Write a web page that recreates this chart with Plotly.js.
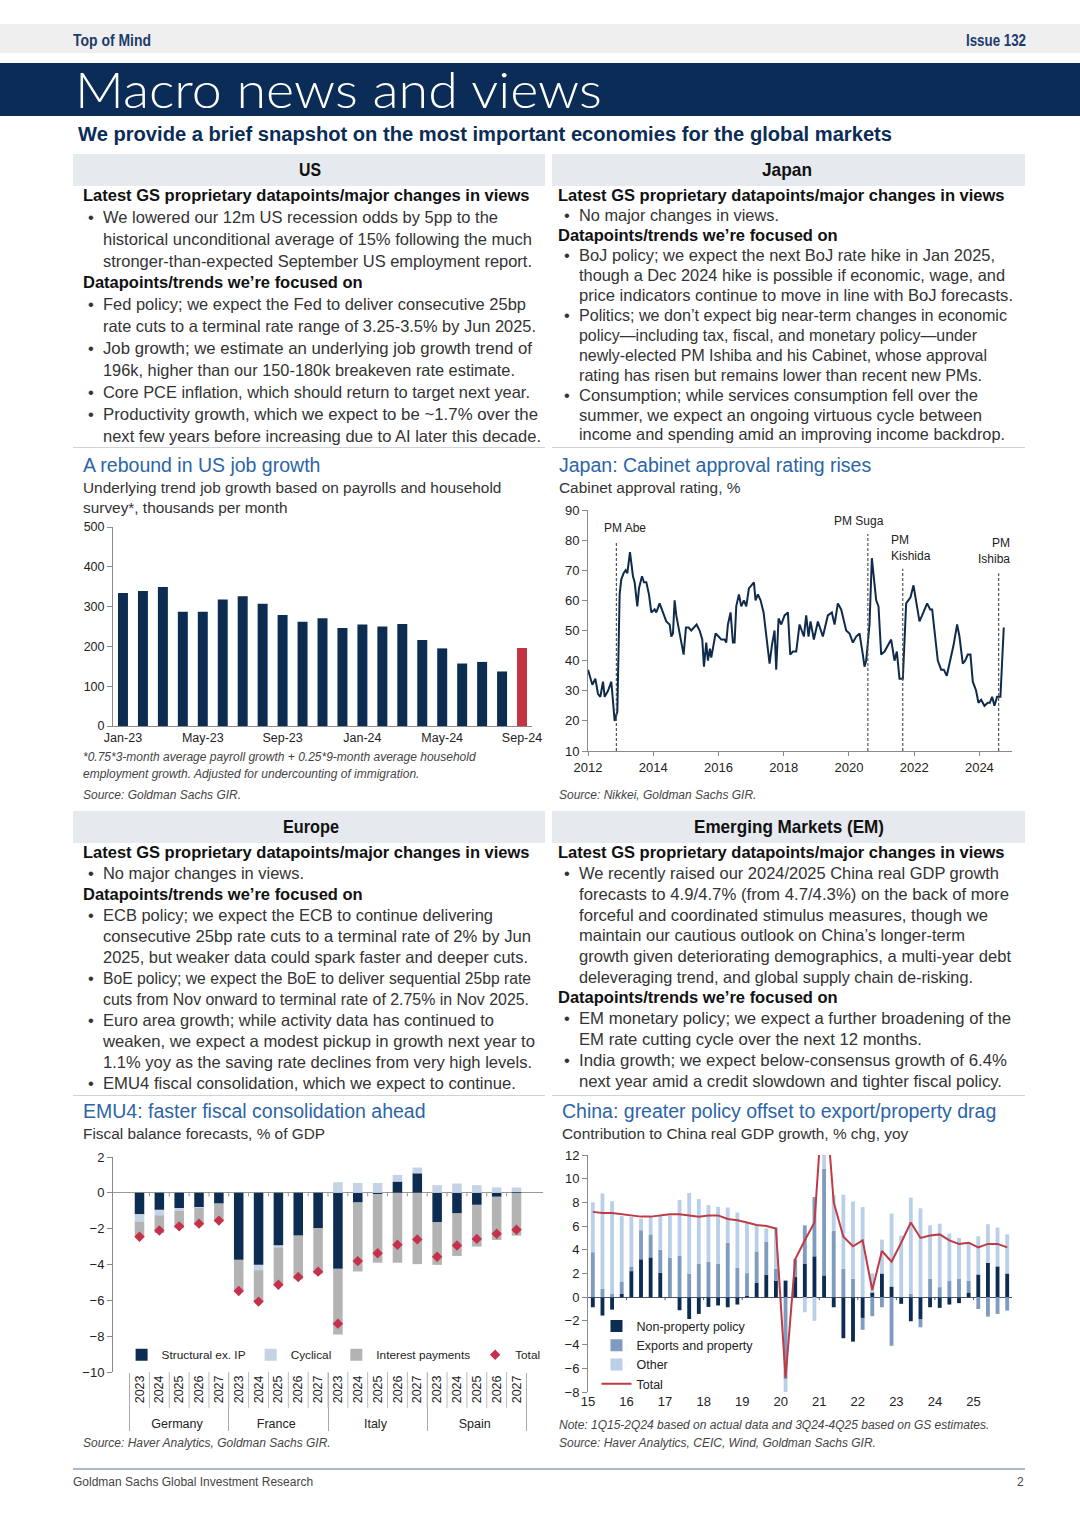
<!DOCTYPE html>
<html>
<head>
<meta charset="utf-8">
<title>Macro news and views</title>
<script src="https://cdn.plot.ly/plotly-3.0.1.min.js"></script>
<style>
html,body{margin:0;padding:0;background:#fff;}
#page{position:relative;width:1080px;height:1527px;overflow:hidden;background:#fff;font-family:"Liberation Sans",Arial,Helvetica,sans-serif;color:#222;}
.abs{position:absolute;white-space:nowrap;}
.band{position:absolute;}
.chart{position:absolute;}
.hd{font-weight:bold;font-size:16.5px;color:#111;line-height:20px;}
.tx{font-size:16.5px;color:#333;line-height:20px;}
.ct{font-size:19.5px;color:#2b65a8;line-height:24px;}
.cs{font-size:15.4px;color:#333;line-height:20px;}
.fn{font-size:12px;font-style:italic;color:#444;line-height:16px;}
.sec{font-weight:bold;font-size:19px;color:#111;line-height:24px;}
</style>
</head>
<body>
<div id="page">
  <div class="band" style="left:0;top:24px;width:1080px;height:29px;background:#efefef;"></div>
  <div class="band" style="left:0;top:63px;width:1080px;height:53px;background:#0b2c56;"></div>
  <div class="band" style="left:73px;top:154px;width:472px;height:32px;background:#e6e9ee;"></div>
  <div class="band" style="left:552px;top:154px;width:473px;height:32px;background:#e6e9ee;"></div>
  <div class="band" style="left:73px;top:811px;width:472px;height:32px;background:#e6e9ee;"></div>
  <div class="band" style="left:552px;top:811px;width:473px;height:32px;background:#e6e9ee;"></div>
  <div class="band" style="left:73px;top:447px;width:472px;height:1px;background:#cfd3d8;"></div>
  <div class="band" style="left:552px;top:447px;width:473px;height:1px;background:#cfd3d8;"></div>
  <div class="band" style="left:73px;top:1095px;width:472px;height:1px;background:#cfd3d8;"></div>
  <div class="band" style="left:552px;top:1095px;width:473px;height:1px;background:#cfd3d8;"></div>
  <div class="band" style="left:73px;top:1468px;width:952px;height:2px;background:#a9bad0;"></div>

  <div id="usChart" class="chart" style="left:55px;top:515px;width:500px;height:245px;"></div>
  <div id="jpChart" class="chart" style="left:545px;top:500px;width:490px;height:280px;"></div>
  <div id="emuChart" class="chart" style="left:55px;top:1145px;width:520px;height:295px;"></div>
  <div id="cnChart" class="chart" style="left:545px;top:1145px;width:490px;height:270px;"></div>
</div>
<script>
// ---------------- DATA ----------------
// US: underlying trend job growth, thousands per month
const usMonths = ['Jan-23','Feb-23','Mar-23','Apr-23','May-23','Jun-23','Jul-23','Aug-23','Sep-23','Oct-23','Nov-23','Dec-23',
                  'Jan-24','Feb-24','Mar-24','Apr-24','May-24','Jun-24','Jul-24','Aug-24','Sep-24'];
const usJobGrowth = [334,339,349,287,287,318,326,307,279,262,271,246,255,250,256,216,195,157,161,137,196];

// Japan: cabinet approval rating, % (date as decimal year)
const approvalDate = [2012.000,2012.133,2012.225,2012.306,2012.378,2012.460,2012.511,2012.613,2012.715,2012.817,2012.899,2012.970,
 2013.021,2013.093,2013.154,2013.205,2013.287,2013.379,2013.430,2013.512,2013.563,2013.655,2013.716,2013.788,2013.869,2013.941,
 2014.043,2014.094,2014.196,2014.298,2014.400,2014.503,2014.554,2014.605,2014.656,2014.707,2014.758,2014.860,2014.932,
 2015.003,2015.085,2015.166,2015.248,2015.330,2015.422,2015.504,2015.555,2015.626,2015.677,2015.739,2015.779,2015.841,2015.912,
 2016.004,2016.086,2016.188,2016.239,2016.290,2016.372,2016.443,2016.494,2016.545,2016.627,2016.699,2016.780,2016.852,2016.934,
 2017.087,2017.138,2017.209,2017.291,2017.383,2017.475,2017.567,2017.638,2017.720,2017.771,2017.843,2017.924,
 2018.027,2018.129,2018.200,2018.282,2018.384,2018.486,2018.558,2018.619,2018.690,2018.762,2018.823,2018.925,
 2019.048,2019.150,2019.201,2019.354,2019.477,2019.559,2019.661,2019.763,2019.916,
 2020.018,2020.121,2020.223,2020.325,2020.427,2020.478,2020.529,2020.631,2020.703,2020.784,2020.836,2020.907,2020.989,
 2021.091,2021.193,2021.295,2021.397,2021.469,2021.551,2021.653,2021.755,2021.888,2021.980,
 2022.061,2022.163,2022.245,2022.398,2022.490,2022.552,2022.623,2022.725,2022.827,2022.909,
 2023.001,2023.103,2023.205,2023.318,2023.389,2023.491,2023.563,2023.645,2023.726,2023.798,2023.900,2023.971,
 2024.053,2024.155,2024.257,2024.319,2024.390,2024.462,2024.543,2024.645,2024.748];
const approvalRating = [37,32,34,29,28,33,28,30,33,20,23,62,
 67,69,70,69,76,68,66,58,64,68,66,66,62,56,
 57,56,59,56,53,52,48,49,60,55,52,46,42,
 51,51,50,51,52,50,47,38,46,40,44,41,45,49,
 48,47,47,46,52,56,46,46,58,62,58,60,58,64,
 66,60,62,60,56,48,39,45,50,37,54,52,
 55,56,42,43,43,52,50,48,55,48,53,47,
 53,50,48,55,56,52,59,57,50,
 49,46,48,49,42,38,40,52,74,66,60,58,42,
 43,45,47,40,43,34,34,59,61,65,
 60,53,55,59,57,57,50,40,37,37,
 35,40,45,52,48,39,40,42,42,33,30,26,
 27,25,26,26,28,25,28,28,51];
const pmLabels = ['PM Abe','PM Suga','PM<br>Kishida','PM<br>Ishiba'];
const pmDates = [2012.87, 2020.58, 2021.65, 2024.59];
const pmLineTop = [79.5, 82, 70.5, 69];
const jpYearTicks = [2012,2014,2016,2018,2020,2022,2024];

// EMU4 fiscal balance forecasts, % of GDP (order: Germany, France, Italy, Spain x 2023..2027)
const emuCountries = ['Germany','France','Italy','Spain'];
const emuYears = ['2023','2024','2025','2026','2027'];
const structuralExIP = [-1.20,-0.95,-0.85,-0.80,-0.60,  -3.74,-4.02,-2.94,-2.39,-1.98,  -4.24,-0.54,-0.07,0.63,1.09,  -1.65,-1.15,-0.67,-0.22,0.05];
const cyclical       = [-0.40,-0.30,-0.15,-0.05,0.00,   0.00,-0.30,-0.10,0.00,0.00,     0.59,0.55,0.55,0.37,0.32,      0.43,0.52,0.43,0.30,0.25];
const interestPay    = [-0.90,-0.99,-0.98,-0.93,-1.00,  -1.74,-1.78,-2.13,-2.44,-2.54,  -3.67,-3.85,-3.83,-3.90,-3.98, -2.37,-2.37,-2.33,-2.41,-2.39];
const fiscalTotal    = [-2.45,-2.10,-1.87,-1.72,-1.55,  -5.48,-6.07,-5.13,-4.70,-4.40,  -7.30,-3.81,-3.37,-2.90,-2.60, -3.57,-2.94,-2.57,-2.28,-2.06];

// China: contribution to real GDP growth, % chg yoy
const cnQuarters = ['1Q15','2Q15','3Q15','4Q15','1Q16','2Q16','3Q16','4Q16','1Q17','2Q17','3Q17','4Q17',
 '1Q18','2Q18','3Q18','4Q18','1Q19','2Q19','3Q19','4Q19','1Q20','2Q20','3Q20','4Q20','1Q21','2Q21','3Q21','4Q21',
 '1Q22','2Q22','3Q22','4Q22','1Q23','2Q23','3Q23','4Q23','1Q24','2Q24','3Q24','4Q24','1Q25','2Q25','3Q25','4Q25'];
const nonPropertyPolicy = [-0.85,-1.55,-1.05,0.30,2.20,3.20,3.36,2.06,0.05,-1.10,-1.84,-1.41,-0.82,-0.70,-0.85,-0.62,
 0.10,1.20,1.90,1.40,1.40,1.70,2.80,3.45,1.84,-0.85,-3.46,-3.75,-1.75,0.40,2.00,0.90,-0.56,-2.03,-1.84,-0.85,
 -0.90,-0.62,-0.50,0.40,1.92,2.90,2.60,2.00];
const exportsProperty = [3.80,0.70,0.28,1.03,0.40,2.45,1.94,1.94,3.28,3.50,2.00,2.82,3.00,2.82,4.60,2.49,
 1.93,2.66,2.76,1.00,-6.90,1.50,3.26,5.00,9.00,5.60,2.40,1.55,-1.00,-1.60,-0.85,-4.10,0.00,0.30,-0.70,1.55,
 0.85,1.41,1.55,1.00,-1.00,-1.64,-1.41,-1.13];
const otherContrib = [4.20,8.06,7.82,5.51,4.18,0.99,1.50,2.90,3.57,4.70,6.80,5.46,4.77,4.81,2.97,4.66,
 4.24,2.20,1.14,3.50,-1.10,0.00,-1.27,-2.00,7.46,3.00,6.25,6.53,7.60,1.60,2.86,6.16,5.20,8.10,7.50,4.52,
 5.35,3.96,3.45,3.25,3.22,3.26,3.28,3.30];
const gdpTotal = [7.2,7.1,7.1,7.0,6.9,6.8,6.8,6.9,7.0,7.0,6.9,6.8,6.9,6.9,6.6,6.5,
 6.3,6.1,6.0,5.8,-6.8,3.2,4.8,6.3,18.3,8.0,5.1,4.3,4.8,0.6,3.9,3.0,4.6,6.3,5.0,5.2,
 5.3,4.8,4.5,4.6,4.2,4.5,4.5,4.2];
const cnYearTicks = [2015,2016,2017,2018,2019,2020,2021,2022,2023,2024,2025];
const cnYearLabels = ['15','16','17','18','19','20','21','22','23','24','25'];

// ---------------- TEXT ----------------
const page = document.getElementById('page');
const LH = {hd:20, tx:20, ct:24, cs:20, fn:16, sec:24};
function put(cls, x, y, text) {
  const d = document.createElement('div');
  d.className = 'abs ' + cls;
  d.style.left = x + 'px';
  d.style.top = (y - LH[cls] / 2) + 'px';
  d.textContent = text;
  page.appendChild(d);
  return d;
}
function fitLeft(el, w) {
  const r = el.getBoundingClientRect().width;
  el.style.transformOrigin = 'left center';
  el.style.transform = 'scaleX(' + (w / r) + ')';
}
function fitCenter(el, w) {
  const r = el.getBoundingClientRect().width;
  el.style.transformOrigin = 'center center';
  el.style.transform = 'translateX(-50%) scaleX(' + (w / r) + ')';
}

// masthead
const tom = put('sec', 73, 41, 'Top of Mind');
tom.style.color = '#1d3c6b'; tom.style.fontSize = '16px'; fitLeft(tom, 78);
const iss = put('sec', 966, 41, 'Issue 132');
iss.style.color = '#1d3c6b'; iss.style.fontSize = '16px'; fitLeft(iss, 60);
const ttl = put('sec', 75, 89, 'Macro news and views');
ttl.style.fontFamily = 'Lato, "Liberation Sans", Arial, sans-serif';
ttl.style.fontWeight = '300'; ttl.style.color = '#fff'; ttl.style.fontSize = '50px'; ttl.style.lineHeight = '56px';
ttl.style.top = (89 - 28) + 'px'; fitLeft(ttl, 527);
const sub = put('sec', 78, 134, 'We provide a brief snapshot on the most important economies for the global markets');
sub.style.color = '#0b2c56'; sub.style.fontSize = '20px'; fitLeft(sub, 814);

// section headers
[[310,170,'US',22],[787,170,'Japan',50],[311,827,'Europe',56],[789,827,'Emerging Markets (EM)',190]].forEach(s => {
  const e = put('sec', s[0], s[1], s[2]); fitCenter(e, s[3]);
});

// [centre y, kind (h = heading, b = bullet line, '' = continuation), text, right edge]
const blocks = [
 {hx:83, bx:88, tx:103, lines:[
  [195,'h','Latest GS proprietary datapoints/major changes in views'],
  [217,'b','We lowered our 12m US recession odds by 5pp to the',498],
  [239,'','historical unconditional average of 15% following the much',532],
  [261,'','stronger-than-expected September US employment report.',532],
  [282,'h','Datapoints/trends we’re focused on'],
  [304,'b','Fed policy; we expect the Fed to deliver consecutive 25bp',526],
  [326,'','rate cuts to a terminal rate range of 3.25-3.5% by Jun 2025.',536],
  [348,'b','Job growth; we estimate an underlying job growth trend of',532],
  [370,'','196k, higher than our 150-180k breakeven rate estimate.',515],
  [392,'b','Core PCE inflation, which should return to target next year.',530],
  [414,'b','Productivity growth, which we expect to be ~1.7% over the',538],
  [436,'','next few years before increasing due to AI later this decade.',541]]},
 {hx:558, bx:564, tx:579, lines:[
  [195,'h','Latest GS proprietary datapoints/major changes in views'],
  [215,'b','No major changes in views.',779],
  [235,'h','Datapoints/trends we’re focused on'],
  [255,'b','BoJ policy; we expect the next BoJ rate hike in Jan 2025,',995],
  [275,'','though a Dec 2024 hike is possible if economic, wage, and',1005],
  [295,'','price indicators continue to move in line with BoJ forecasts.',1013],
  [315,'b','Politics; we don’t expect big near-term changes in economic',1007],
  [335,'','policy—including tax, fiscal, and monetary policy—under',977],
  [355,'','newly-elected PM Ishiba and his Cabinet, whose approval',987],
  [375,'','rating has risen but remains lower than recent new PMs.',982],
  [395,'b','Consumption; while services consumption fell over the',978],
  [415,'','summer, we expect an ongoing virtuous cycle between',982],
  [434,'','income and spending amid an improving income backdrop.',1005]]},
 {hx:83, bx:88, tx:103, lines:[
  [852,'h','Latest GS proprietary datapoints/major changes in views'],
  [873,'b','No major changes in views.',304],
  [894,'h','Datapoints/trends we’re focused on'],
  [915,'b','ECB policy; we expect the ECB to continue delivering',493],
  [936,'','consecutive 25bp rate cuts to a terminal rate of 2% by Jun',531],
  [957,'','2025, but weaker data could spark faster and deeper cuts.',528],
  [978,'b','BoE policy; we expect the BoE to deliver sequential 25bp rate',531],
  [999,'','cuts from Nov onward to terminal rate of 2.75% in Nov 2025.',529],
  [1020,'b','Euro area growth; while activity data has continued to',494],
  [1041,'','weaken, we expect a modest pickup in growth next year to',535],
  [1062,'','1.1% yoy as the saving rate declines from very high levels.',532],
  [1083,'b','EMU4 fiscal consolidation, which we expect to continue.',516]]},
 {hx:558, bx:564, tx:579, lines:[
  [852,'h','Latest GS proprietary datapoints/major changes in views'],
  [873,'b','We recently raised our 2024/2025 China real GDP growth',999],
  [894,'','forecasts to 4.9/4.7% (from 4.7/4.3%) on the back of more',1009],
  [915,'','forceful and coordinated stimulus measures, though we',988],
  [935,'','maintain our cautious outlook on China’s longer-term',965],
  [956,'','growth given deteriorating demographics, a multi-year debt',1011],
  [977,'','deleveraging trend, and global supply chain de-risking.',973],
  [997,'h','Datapoints/trends we’re focused on'],
  [1018,'b','EM monetary policy; we expect a further broadening of the',1011],
  [1039,'','EM rate cutting cycle over the next 12 months.',922],
  [1060,'b','India growth; we expect below-consensus growth of 6.4%',1007],
  [1081,'','next year amid a credit slowdown and tighter fiscal policy.',1002]]}
];
blocks.forEach(b => b.lines.forEach(l => {
  if (l[1] === 'h') { put('hd', b.hx, l[0], l[2]); }
  else {
    if (l[1] === 'b') put('tx', b.bx, l[0], '•');
    const e = put('tx', b.tx, l[0], l[2]);
    if (l[3]) fitLeft(e, l[3] - b.tx);
  }
}));

// chart titles, subtitles, notes
put('ct', 83, 465, 'A rebound in US job growth');
put('cs', 83, 488, 'Underlying trend job growth based on payrolls and household');
put('cs', 83, 508, 'survey*, thousands per month');
put('fn', 83, 757, '*0.75*3-month average payroll growth + 0.25*9-month average household');
put('fn', 83, 774, 'employment growth. Adjusted for undercounting of immigration.');
put('fn', 83, 795, 'Source: Goldman Sachs GIR.');
put('ct', 559, 465, 'Japan: Cabinet approval rating rises');
put('cs', 559, 488, 'Cabinet approval rating, %');
put('fn', 559, 795, 'Source: Nikkei, Goldman Sachs GIR.');
put('ct', 83, 1111, 'EMU4: faster fiscal consolidation ahead');
put('cs', 83, 1134, 'Fiscal balance forecasts, % of GDP');
put('fn', 83, 1443, 'Source: Haver Analytics, Goldman Sachs GIR.');
put('ct', 562, 1111, 'China: greater policy offset to export/property drag');
put('cs', 562, 1134, 'Contribution to China real GDP growth, % chg, yoy');
put('fn', 559, 1425, 'Note: 1Q15-2Q24 based on actual data and 3Q24-4Q25 based on GS estimates.');
put('fn', 559, 1443, 'Source: Haver Analytics, CEIC, Wind, Goldman Sachs GIR.');
const f1 = put('fn', 73, 1482, 'Goldman Sachs Global Investment Research'); f1.style.fontStyle = 'normal';
const f2 = put('fn', 1017, 1482, '2'); f2.style.fontStyle = 'normal';

// ---------------- CHARTS ----------------
const FONT = '"Liberation Sans", Arial, sans-serif';
const NAVY = '#0c2c52', RED = '#c63340', AXIS = '#8a8a8a';
const cfg = {staticPlot: true};
const base = {paper_bgcolor: 'rgba(0,0,0,0)', plot_bgcolor: 'rgba(0,0,0,0)', font: {family: FONT, size: 12.5, color: '#222'}};

// US
Plotly.newPlot('usChart', [{
  type: 'bar', x: usMonths, y: usJobGrowth,
  marker: {color: usMonths.map((m, i) => i === usMonths.length - 1 ? RED : NAVY)}
}], Object.assign({}, base, {
  width: 500, height: 245, margin: {l: 58, r: 23, t: 12, b: 34},
  bargap: 0.5, showlegend: false,
  xaxis: {type: 'category', tickvals: usMonths.filter((m, i) => i % 4 === 0), showline: true, linecolor: AXIS, ticks: '', showgrid: false},
  yaxis: {range: [0, 500], dtick: 100, showline: true, linecolor: AXIS, ticks: 'outside', ticklen: 5, tickcolor: AXIS, showgrid: false, zeroline: false}
}), cfg);

// Japan
const jpTraces = [{type: 'scatter', mode: 'lines', x: approvalDate, y: approvalRating, line: {color: '#0f2b4c', width: 2}}];
pmDates.forEach((d, i) => jpTraces.push({type: 'scatter', mode: 'lines', x: [d, d], y: [10, pmLineTop[i]],
  line: {color: '#555', width: 1.2, dash: '3px,2px'}}));
const pmStyle = [{xanchor: 'center', align: 'center', xshift: 9, yshift: 5},
                 {xanchor: 'center', align: 'center', xshift: -9, yshift: 4},
                 {xanchor: 'left', align: 'left', xshift: -14, yshift: 4},
                 {xanchor: 'right', align: 'right', xshift: 13, yshift: 5}];
Plotly.newPlot('jpChart', jpTraces, Object.assign({}, base, {
  width: 490, height: 280, margin: {l: 43, r: 23, t: 10, b: 29}, showlegend: false,
  font: {family: FONT, size: 13, color: '#222'},
  xaxis: {range: [2012, 2025], tickvals: jpYearTicks, showline: true, linecolor: AXIS, ticks: 'outside', ticklen: 4, tickcolor: AXIS, showgrid: false, zeroline: false},
  yaxis: {range: [10, 90], dtick: 10, showline: true, linecolor: AXIS, ticks: 'outside', ticklen: 5, tickcolor: AXIS, showgrid: false, zeroline: false},
  annotations: pmLabels.map((t, i) => Object.assign({x: pmDates[i], y: pmLineTop[i], text: t, showarrow: false,
    yanchor: 'bottom', font: {size: 12, color: '#222'}}, pmStyle[i]))
}), cfg);

// EMU4
const emuX = [emuCountries.flatMap(c => emuYears.map(() => c)), emuCountries.flatMap(() => emuYears)];
const nCat = emuX[0].length;
const emuShapes = [];
for (let i = 0; i < nCat - 1; i++) {
  // year separators under the axis and small boundary ticks on the zero line
  emuShapes.push({type: 'line', xref: 'x', yref: 'paper', x0: i + 0.5, x1: i + 0.5, y0: 0, y1: -0.167, line: {color: '#bbb', width: 1}});
  emuShapes.push({type: 'line', xref: 'x', yref: 'y', x0: i + 0.5, x1: i + 0.5, y0: 0, y1: -0.2, line: {color: '#999', width: 1}});
}
Plotly.newPlot('emuChart', [
  {type: 'bar', name: 'Structural ex. IP', x: emuX, y: structuralExIP, marker: {color: NAVY}},
  {type: 'bar', name: 'Cyclical', x: emuX, y: cyclical, marker: {color: '#c4d3e5'}},
  {type: 'bar', name: 'Interest payments', x: emuX, y: interestPay, marker: {color: '#b3b3b3'}},
  {type: 'scatter', mode: 'markers', name: 'Total', x: emuX, y: fiscalTotal, marker: {symbol: 'diamond', size: 8, color: '#c5304a'}}
], Object.assign({}, base, {
  width: 520, height: 295, margin: {l: 58, r: 32, t: 12, b: 68},
  barmode: 'relative', bargap: 0.52,
  legend: {orientation: 'h', x: 0.02, y: 0.08, xanchor: 'left', yanchor: 'middle', bgcolor: 'rgba(0,0,0,0)', traceorder: 'normal', itemwidth: 30, font: {size: 11.8}},
  xaxis: {type: 'multicategory', tickangle: -90, showdividers: true, dividercolor: '#aaa', dividerwidth: 1, showline: false, ticks: '', showgrid: false},
  yaxis: {range: [-10, 2], dtick: 2, showline: true, linecolor: AXIS, ticks: 'outside', ticklen: 5, tickcolor: AXIS, showgrid: false,
          zeroline: true, zerolinecolor: '#999', zerolinewidth: 1, tickfont: {size: 13}},
  shapes: emuShapes
}), cfg);

// China
const qPos = q => 2000 + parseInt(q.slice(2), 10) + (parseInt(q[0], 10) - 1) / 4 + 0.125;
const cnX = cnQuarters.map(qPos);
const cnShapes = cnYearTicks.slice(1).map(yr => ({type: 'line', xref: 'x', yref: 'y', x0: yr, x1: yr, y0: 0, y1: -0.25, line: {color: '#4a5566', width: 1}}));
Plotly.newPlot('cnChart', [
  {type: 'bar', name: 'Non-property policy', x: cnX, y: nonPropertyPolicy, marker: {color: NAVY}},
  {type: 'bar', name: 'Exports and property', x: cnX, y: exportsProperty, marker: {color: '#7f9bbf'}},
  {type: 'bar', name: 'Other', x: cnX, y: otherContrib, marker: {color: '#b9d0e8'}},
  {type: 'scatter', mode: 'lines', name: 'Total', x: cnX, y: gdpTotal, line: {color: '#bf3a44', width: 2}}
], Object.assign({}, base, {
  width: 490, height: 270, margin: {l: 43, r: 23, t: 10, b: 23},
  barmode: 'relative', bargap: 0.6,
  font: {family: FONT, size: 13, color: '#222'},
  legend: {x: 0.02, y: 0.34, xanchor: 'left', yanchor: 'top', bgcolor: 'rgba(0,0,0,0)', traceorder: 'normal', tracegroupgap: 0, itemwidth: 30, font: {size: 12.5}},
  xaxis: {range: [2015, 2026], tickvals: cnYearTicks, ticktext: cnYearLabels, showline: false, ticks: '', showgrid: false, zeroline: false},
  yaxis: {range: [-8, 12], dtick: 2, showline: true, linecolor: AXIS, ticks: 'outside', ticklen: 5, tickcolor: AXIS, showgrid: false,
          zeroline: true, zerolinecolor: '#4a5566', zerolinewidth: 1},
  shapes: cnShapes
}), cfg);
</script>
</body>
</html>
